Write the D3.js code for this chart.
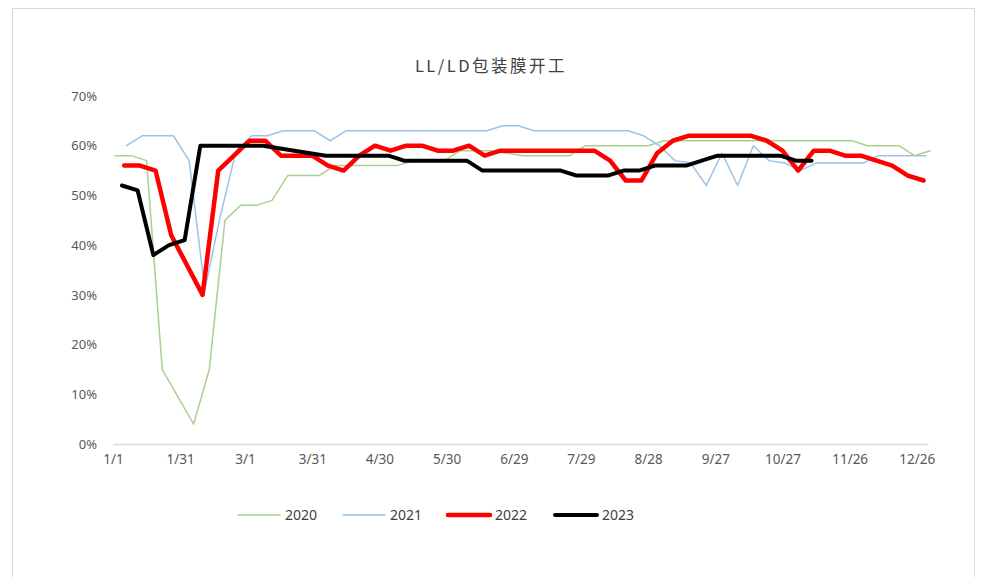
<!DOCTYPE html>
<html>
<head>
<meta charset="utf-8">
<script src="https://cdn.jsdelivr.net/npm/d3@7/dist/d3.min.js"></script>
<style>
  html, body { margin: 0; padding: 0; background: #fff; }
  svg { display: block; }
</style>
</head>
<body>
<svg id="chart" width="989" height="577"></svg>
<script>
// ---- data ----
const title = "LL/LD包装膜开工";
const tickLabels = ["1/1","1/31","3/1","3/31","4/30","5/30","6/29","7/29","8/28","9/27","10/27","11/26","12/26"];
const tickDays = [0,30,59,89,119,149,179,209,239,269,299,329,359];
const yTicks = [0,10,20,30,40,50,60,70];
const seriesNames = ["2020","2021","2022","2023"];
// first weekly observation (day of year) of each series
const startDays = [1, 6, 5, 4];
const values2020 = [58,58,57,15,9.5,4,15,45,48,48,49,54,54,54,56,56,56,56,56,57,57,57,59,59,59,58.5,58,58,58,58,60,60,60,60,60,61,61,61,61,61,61,61,61,61,61,61,61,61,60,60,60,58,59];
const values2021 = [60,62,62,62,57,31,46,59,62,62,63,63,63,61,63,63,63,63,63,63,63,63,63,63,64,64,63,63,63,63,63,63,63,62,60,57,56.5,52,58.5,52,60,57,56.5,55,56.5,56.5,56.5,56.5,58,58,58,58];
const values2022 = [56,56,55,42,36,30,55,58,61,61,58,58,58,56,55,58,60,59,60,60,59,59,60,58,59,59,59,59,59,59,59,57,53,53,58.5,61,62,62,62,62,62,61,59,55,59,59,58,58,57,56,54,53];
const values2023 = [52,51,38,40,41,60,60,60,60,60,59.5,59,58.5,58,58,58,58,58,57,57,57,57,57,55,55,55,55,55,55,54,54,54,55,55,56,56,56,57,58,58,58,58,58,57,57];
const seriesValues = [values2020, values2021, values2022, values2023];
const seriesColors = ["#a9d18e","#9dc3e6","#ff0000","#000000"];
const seriesWidths = [1.5,1.5,4.5,4];

// ---- layout ----
const svg = d3.select("#chart");
const plotLeft = 113, plotRight = 928, plotTop = 96, plotBottom = 444;

svg.append("rect").attr("x",12.5).attr("y",8.5).attr("width",962).attr("height",580)
  .attr("fill","#fff").attr("stroke","#d9d9d9").attr("stroke-width",1);

const x = d3.scaleLinear().domain([0,364]).range([plotLeft,plotRight]);
const y = d3.scaleLinear().domain([0,70]).range([plotBottom,plotTop]);

svg.append("text").attr("x",491).attr("y",72).attr("text-anchor","middle")
  .attr("font-family","'Noto Sans CJK SC', 'Noto Sans', sans-serif")
  .attr("font-size",16.5).attr("letter-spacing",2.5).attr("fill","#404040").text(title);

// y axis labels
const yAxis = d3.axisLeft(y).tickValues(yTicks).tickFormat(d => d + "%").tickSize(0).tickPadding(16);
const gy = svg.append("g").attr("transform",`translate(${plotLeft},0)`).call(yAxis);
gy.select(".domain").remove();
gy.selectAll("text").attr("font-family","'Noto Sans', sans-serif").attr("font-size",13).attr("fill","#595959");

// x axis
const xAxis = d3.axisBottom(x).tickValues(tickDays).tickFormat((d,i) => tickLabels[i]).tickSize(0).tickPadding(10);
const gx = svg.append("g").attr("transform",`translate(0,${plotBottom})`).call(xAxis);
gx.select(".domain").attr("stroke","#d9d9d9").attr("stroke-width",1.3);
gx.selectAll("text").attr("font-family","'Noto Sans', sans-serif").attr("font-size",13.5).attr("fill","#595959");

// lines
const line = d3.line().x(d => x(d.day)).y(d => y(d.v));
seriesValues.forEach((vals, s) => {
  const pts = vals.map((v, i) => ({ day: startDays[s] + 7 * i, v }));
  svg.append("path").datum(pts).attr("d", line)
    .attr("fill","none").attr("stroke",seriesColors[s]).attr("stroke-width",seriesWidths[s])
    .attr("stroke-linejoin","round").attr("stroke-linecap","round");
});

// legend
const legendX = [238, 343, 448, 555];
const lg = svg.append("g");
seriesNames.forEach((name, s) => {
  lg.append("line").attr("x1",legendX[s]).attr("x2",legendX[s]+42).attr("y1",515).attr("y2",515)
    .attr("stroke",seriesColors[s]).attr("stroke-width",seriesWidths[s]).attr("stroke-linecap","round");
  lg.append("text").attr("x",legendX[s]+47).attr("y",520)
    .attr("font-family","'Noto Sans', sans-serif").attr("font-size",14).attr("fill","#404040").text(name);
});
</script>
</body>
</html>
